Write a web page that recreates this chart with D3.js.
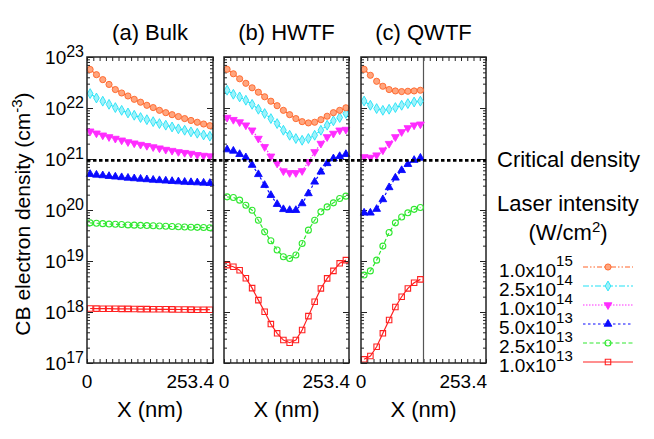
<!DOCTYPE html>
<html>
<head>
<meta charset="utf-8">
<script src="https://cdn.jsdelivr.net/npm/d3@7"></script>
<style>
  body { margin: 0; background: #fff; }
  text { font-family: "Liberation Sans", Arial, sans-serif; fill: #000; }
</style>
</head>
<body>
<div id="chart"></div>
<script>
// cell centres along the film (nm)
const xCell = [6.3, 19.0, 31.7, 44.3, 57.0, 69.7, 82.4, 95.0, 107.7, 120.4,
  133.1, 145.7, 158.4, 171.1, 183.8, 196.4, 209.1, 221.8, 234.5, 247.1];

const intensityMantissa = ["1.0", "2.5", "1.0", "5.0", "2.5", "1.0"];
const intensityExponent = ["15", "14", "14", "13", "13", "13"];
const criticalDensity = 9.4e20;

// rows follow the legend order (1e15 ... 1e13)
const bulkDensity = [
  [5.7e22, 4.5e22, 3.6e22, 2.9e22, 2.3e22, 1.97e22, 1.72e22, 1.48e22, 1.30e22, 1.13e22,
   1.02e22, 9.0e21, 8.1e21, 7.4e21, 6.8e21, 6.2e21, 5.7e21, 5.25e21, 4.85e21, 4.5e21],
  [1.92e22, 1.57e22, 1.36e22, 1.18e22, 1.02e22, 9.0e21, 8.0e21, 7.2e21, 6.5e21, 5.9e21,
   5.4e21, 4.95e21, 4.6e21, 4.25e21, 3.9e21, 3.66e21, 3.4e21, 3.2e21, 2.96e21, 2.8e21],
  [3.5e21, 3.2e21, 2.92e21, 2.71e21, 2.52e21, 2.33e21, 2.16e21, 2.04e21, 1.92e21, 1.82e21,
   1.72e21, 1.63e21, 1.53e21, 1.46e21, 1.38e21, 1.33e21, 1.28e21, 1.21e21, 1.17e21, 1.14e21],
  [5.04e20, 4.88e20, 4.75e20, 4.6e20, 4.48e20, 4.36e20, 4.25e20, 4.15e20, 4.06e20, 3.97e20,
   3.88e20, 3.81e20, 3.74e20, 3.67e20, 3.61e20, 3.54e20, 3.49e20, 3.45e20, 3.40e20, 3.36e20],
  [5.6e19, 5.5e19, 5.4e19, 5.3e19, 5.25e19, 5.2e19, 5.1e19, 5.05e19, 5.0e19, 4.95e19,
   4.9e19, 4.85e19, 4.8e19, 4.75e19, 4.7e19, 4.65e19, 4.6e19, 4.57e19, 4.53e19, 4.5e19],
  [1.17e18, 1.165e18, 1.16e18, 1.16e18, 1.155e18, 1.15e18, 1.15e18, 1.145e18, 1.14e18, 1.14e18,
   1.135e18, 1.13e18, 1.13e18, 1.125e18, 1.12e18, 1.12e18, 1.115e18, 1.11e18, 1.11e18, 1.11e18]
];

const hwtfDensity = [
  [5.74e22, 4.69e22, 3.74e22, 3.05e22, 2.49e22, 2.04e22, 1.66e22, 1.36e22, 1.11e22, 9.0e21,
   7.4e21, 6.2e21, 5.4e21, 5.1e21, 5.26e21, 5.9e21, 6.9e21, 8.1e21, 9.0e21, 1.01e22],
  [2.23e22, 1.86e22, 1.65e22, 1.42e22, 1.18e22, 9.45e21, 7.8e21, 6.2e21, 4.95e21, 3.66e21,
   2.92e21, 2.52e21, 2.33e21, 2.52e21, 2.92e21, 3.66e21, 4.6e21, 5.6e21, 6.5e21, 7.8e21],
  [6.5e21, 5.9e21, 5.3e21, 4.6e21, 3.66e21, 2.52e21, 1.73e21, 1.13e21, 8.2e20, 5.8e20,
   5.35e20, 5.35e20, 5.85e20, 8.8e20, 1.38e21, 2.01e21, 2.71e21, 3.16e21, 3.66e21, 3.78e21],
  [1.53e21, 1.44e21, 1.24e21, 1.07e21, 7.6e20, 5.0e20, 3.07e20, 1.95e20, 1.30e20, 1.03e20,
   9.9e19, 9.9e19, 1.34e20, 2.11e20, 3.56e20, 5.6e20, 8.2e20, 1.02e21, 1.13e21, 1.24e21],
  [1.81e20, 1.76e20, 1.56e20, 1.24e20, 9.9e19, 6.3e19, 3.73e19, 2.49e19, 1.64e19, 1.21e19,
   1.12e19, 1.31e19, 2.21e19, 4.03e19, 6.3e19, 9.2e19, 1.15e20, 1.38e20, 1.68e20, 1.87e20],
  [8.3e18, 7.7e18, 6.6e18, 4.6e18, 2.94e18, 1.71e18, 1.01e18, 5.8e17, 3.82e17, 2.82e17,
   2.5e17, 2.82e17, 4.43e17, 8.3e17, 1.59e18, 2.9e18, 4.56e18, 6.4e18, 9.0e18, 1.04e19]
];

const qwtfDensity = [
  [5.74e22, 4.38e22, 3.34e22, 2.67e22, 2.30e22, 2.16e22, 2.10e22, 2.13e22, 2.16e22, 2.23e22],
  [1.37e22, 1.13e22, 9.75e21, 9.0e21, 9.45e21, 1.02e22, 1.13e22, 1.22e22, 1.31e22, 1.36e22],
  [1.10e21, 1.07e21, 1.19e21, 1.49e21, 2.0e21, 2.71e21, 3.4e21, 4.07e21, 4.6e21, 4.8e21],
  [8.8e19, 8.8e19, 1.04e20, 1.61e20, 2.77e20, 4.27e20, 6.0e20, 7.9e20, 9.5e20, 1.05e21],
  [5.3e18, 6.4e18, 1.04e19, 1.96e19, 3.63e19, 5.6e19, 7.3e19, 8.8e19, 1.03e20, 1.12e20],
  [1.18e17, 1.37e17, 2.08e17, 3.82e17, 6.95e17, 1.25e18, 1.99e18, 2.9e18, 3.74e18, 4.36e18]
];

const yTickExponents = [17, 18, 19, 20, 21, 22, 23];
const xTickLabels = [0, 253.4];
const filmThickness = 253.4;

// styles
const seriesStyle = [
  { color: "#ff6428", dash: "5,2,1.5,2,1.5,2", symbol: "circle", fill: "#ffa57e" },
  { color: "#22e2f6", dash: "6,2,2,2", symbol: "diamond", fill: "#9df2fb" },
  { color: "#ff2cff", dash: "1.5,1.5", symbol: "down", fill: "#ff2cff" },
  { color: "#0a0aff", dash: "2.5,2.5", symbol: "up", fill: "#0a0aff" },
  { color: "#30e830", dash: "4,2.5", symbol: "ocircle", fill: "none" },
  { color: "#ff2020", dash: null, symbol: "osquare", fill: "none" }
];

const width = 654;
const height = 439;
const plotTop = 57;
const plotBottom = 363;

const panels = [
  { title: "(a) Bulk", left: 87, right: 213, data: bulkDensity, xs: xCell, yLabels: true },
  { title: "(b) HWTF", left: 224, right: 349, data: hwtfDensity, xs: xCell },
  { title: "(c) QWTF", left: 361, right: 486, data: qwtfDensity, xs: xCell.slice(0, 10), divider: 126.7 }
];

const svg = d3.select("#chart").append("svg")
  .attr("width", width)
  .attr("height", height);

const yScale = d3.scaleLog().domain([1e17, 1e23]).range([plotBottom, plotTop]);

const yMajor = yTickExponents.map((e) => Math.pow(10, e));
const yMinor = [];
yTickExponents.slice(0, -1).forEach((e) => {
  for (let m = 2; m <= 9; m++) yMinor.push(m * Math.pow(10, e));
});
const xTicks = d3.range(0, 20.5).map((i) => (i * filmThickness) / 20);

function symbolPath(kind) {
  const types = {
    circle: [d3.symbolCircle, 30],
    diamond: [d3.symbolDiamond, 28],
    down: [d3.symbolTriangle, 26],
    up: [d3.symbolTriangle, 26],
    ocircle: [d3.symbolCircle, 28],
    osquare: [d3.symbolSquare, 30]
  };
  const t = types[kind];
  return d3.symbol().type(t[0]).size(t[1])();
}

function drawMarkers(sel, style) {
  sel.append("path")
    .attr("d", symbolPath(style.symbol))
    .attr("transform", (d) => `translate(${d[0]},${d[1]})` + (style.symbol === "down" ? " rotate(180)" : ""))
    .attr("fill", style.fill === "none" ? "none" : style.fill)
    .attr("stroke", style.color)
    .attr("stroke-width", style.symbol === "ocircle" || style.symbol === "osquare" ? 1.1 : 0.9);
}

function cleanAxis(g) {
  g.select(".domain").remove();
  g.selectAll(".tick line").attr("stroke", "#222").attr("stroke-width", 1);
}

panels.forEach((p) => {
  const xScale = d3.scaleLinear().domain([0, filmThickness]).range([p.left, p.right]);
  const g = svg.append("g");

  // inward ticks on all four sides
  g.append("g").attr("transform", `translate(${p.left},0)`)
    .call(d3.axisLeft(yScale).tickValues(yMajor).tickSize(-6).tickFormat("")).call(cleanAxis);
  g.append("g").attr("transform", `translate(${p.left},0)`)
    .call(d3.axisLeft(yScale).tickValues(yMinor).tickSize(-3).tickFormat("")).call(cleanAxis);
  g.append("g").attr("transform", `translate(${p.right},0)`)
    .call(d3.axisRight(yScale).tickValues(yMajor).tickSize(-6).tickFormat("")).call(cleanAxis);
  g.append("g").attr("transform", `translate(${p.right},0)`)
    .call(d3.axisRight(yScale).tickValues(yMinor).tickSize(-3).tickFormat("")).call(cleanAxis);
  g.append("g").attr("transform", `translate(0,${plotTop})`)
    .call(d3.axisTop(xScale).tickValues(xTicks).tickSize(-4).tickFormat("")).call(cleanAxis);
  g.append("g").attr("transform", `translate(0,${plotBottom})`)
    .call(d3.axisBottom(xScale).tickValues(xTicks).tickSize(-4).tickFormat("")).call(cleanAxis);

  if (p.divider) {
    g.append("line")
      .attr("x1", xScale(p.divider)).attr("x2", xScale(p.divider))
      .attr("y1", plotTop).attr("y2", plotBottom)
      .attr("stroke", "#555").attr("stroke-width", 1.2);
  }

  // series, weakest first so the top curves sit over the rest
  const line = d3.line().x((d) => d[0]).y((d) => d[1]);
  for (let k = p.data.length - 1; k >= 0; k--) {
    const style = seriesStyle[k];
    const pts = p.xs.map((x, i) => [xScale(x), yScale(p.data[k][i])]);
    g.append("path")
      .attr("d", line(pts))
      .attr("fill", "none")
      .attr("stroke", style.color)
      .attr("stroke-width", 1.2)
      .attr("stroke-dasharray", style.dash);
    const mk = g.append("g").selectAll("g").data(pts).enter();
    drawMarkers(mk, style);
  }

  g.append("rect")
    .attr("x", p.left).attr("y", plotTop)
    .attr("width", p.right - p.left).attr("height", plotBottom - plotTop)
    .attr("fill", "none").attr("stroke", "#222").attr("stroke-width", 1.5);

  // titles and x labels
  const cx = (p.left + p.right) / 2;
  svg.append("text").attr("x", cx).attr("y", 40)
    .attr("text-anchor", "middle").style("font-size", "22px").text(p.title);
  svg.append("text").attr("x", cx).attr("y", 417)
    .attr("text-anchor", "middle").style("font-size", "22px").text("X (nm)");
  svg.append("text").attr("x", xScale(xTickLabels[0])).attr("y", 388)
    .attr("text-anchor", "middle").style("font-size", "19px").text(xTickLabels[0]);
  svg.append("text").attr("x", xScale(xTickLabels[1]) + 1).attr("y", 388)
    .attr("text-anchor", "end").style("font-size", "19px").text(xTickLabels[1]);

  if (p.yLabels) {
    yTickExponents.forEach((e) => {
      const t = svg.append("text")
        .attr("x", p.left - 3)
        .attr("y", yScale(Math.pow(10, e)) + 6.5)
        .attr("text-anchor", "end")
        .style("font-size", "19px");
      t.append("tspan").text("10");
      t.append("tspan").attr("dy", -7).style("font-size", "16px").text(e);
    });
  }
});

// critical density, drawn across all three panels
const yCrit = yScale(criticalDensity);
svg.append("line")
  .attr("x1", panels[0].left).attr("x2", panels[2].right)
  .attr("y1", yCrit).attr("y2", yCrit)
  .attr("stroke", "#000").attr("stroke-width", 2.6)
  .attr("stroke-dasharray", "3.5,2.5");

// y axis title
const yTitle = svg.append("text")
  .attr("transform", "translate(30,214) rotate(-90)")
  .attr("text-anchor", "middle")
  .style("font-size", "21px");
yTitle.append("tspan").text("CB electron density (cm");
yTitle.append("tspan").attr("dy", -8).style("font-size", "15px").text("-3");
yTitle.append("tspan").attr("dy", 8).text(")");

// legend
svg.append("text").attr("x", 497).attr("y", 167).style("font-size", "22px").text("Critical density");
svg.append("text").attr("x", 497).attr("y", 211).style("font-size", "22px").text("Laser intensity");
const wcm = svg.append("text").attr("x", 568).attr("y", 240)
  .attr("text-anchor", "middle").style("font-size", "22px");
wcm.append("tspan").text("(W/cm");
wcm.append("tspan").attr("dy", -8).style("font-size", "15px").text("2");
wcm.append("tspan").attr("dy", 8).text(")");

intensityMantissa.forEach((m, k) => {
  const rowY = 267 + k * 19;
  const style = seriesStyle[k];
  const t = svg.append("text").attr("x", 499).attr("y", rowY + 9.5).style("font-size", "19px");
  t.append("tspan").text(m + "x10");
  t.append("tspan").attr("dy", -11).style("font-size", "15px").text(intensityExponent[k]);

  svg.append("line")
    .attr("x1", 583).attr("x2", 633).attr("y1", rowY).attr("y2", rowY)
    .attr("stroke", style.color).attr("stroke-width", 1.2)
    .attr("stroke-dasharray", style.dash);
  drawMarkers(svg.append("g").selectAll("g").data([[608, rowY]]).enter(), style);
});
</script>
</body>
</html>
